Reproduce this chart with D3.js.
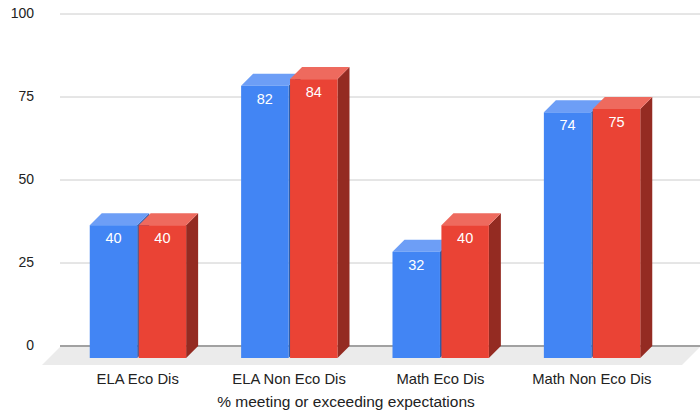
<!DOCTYPE html>
<html><head><meta charset="utf-8">
<script src="https://cdn.jsdelivr.net/npm/d3@7"></script>
<style>html,body{margin:0;padding:0;background:#fff}svg{display:block}text{font-family:"Liberation Sans",Arial,sans-serif}</style>
</head><body><svg id="c" width="700" height="412"></svg>
<script>
const categories = ["ELA Eco Dis","ELA Non Eco Dis","Math Eco Dis","Math Non Eco Dis"];
const seriesA = [40,82,32,74];
const seriesB = [40,84,40,75];
const yTicks = [0,25,50,75,100];
const axisTitle = "% meeting or exceeding expectations";

const svg = d3.select("#c");
const depth = 12, floorDepth = 18;
const left = 60, right = 700;
const y = d3.scaleLinear().domain([0,100]).range([346,14]);
const x0 = d3.scaleBand().domain(categories).range([62.5,668]).paddingInner(0.36).paddingOuter(0.36*0.5);
const x = d3.scaleBand().domain([0,1]).range([0,x0.bandwidth()-0.5]).paddingInner(0.03);

// floor
svg.append("path").attr("fill","#ebebeb")
  .attr("d",`M${left},${y(0)+1}L${right},${y(0)+1}L${right-floorDepth},${y(0)+19}L${left-floorDepth},${y(0)+19}Z`);
// grid
svg.append("g").selectAll("line").data(yTicks).join("line")
  .attr("x1",left).attr("x2",right)
  .attr("y1",d=>y(d)).attr("y2",d=>y(d))
  .attr("stroke",d=>d===0?"#444":"#ccc").attr("stroke-width",d=>d===0?1.2:1);
// y labels
svg.append("g").selectAll("text").data(yTicks).join("text")
  .attr("x",34).attr("y",d=>y(d)-0.7).attr("dy","0.35em").attr("text-anchor","end")
  .attr("font-size",14).attr("fill","#222").text(d=>d);

const styles = [
 {front:"#4285f4",top:"#6d9ef6",side:"#2e5da9"},
 {front:"#ea4335",top:"#ee6a5e",side:"#942b22"}
];
const series = [seriesA,seriesB];
series.forEach((vals,si)=>{
  const g = svg.append("g");
  const s = styles[si];
  const data = vals.map((v,i)=>({v,c:categories[i]}));
  const fx = d=>x0(d.c)+x(si);
  const w = x.bandwidth();
  const base = y(0)+depth;
  const topY = d=>y(d.v)+depth;
  g.selectAll(".side").data(data).join("path").attr("fill",s.side)
    .attr("d",d=>`M${fx(d)+w},${topY(d)}L${fx(d)+w+depth},${topY(d)-depth}L${fx(d)+w+depth},${base-depth}L${fx(d)+w},${base}Z`);
  g.selectAll(".top").data(data).join("path").attr("fill",s.top)
    .attr("d",d=>`M${fx(d)},${topY(d)}L${fx(d)+depth},${topY(d)-depth}L${fx(d)+w+depth},${topY(d)-depth}L${fx(d)+w},${topY(d)}Z`);
  g.selectAll(".front").data(data).join("rect").attr("fill",s.front)
    .attr("x",fx).attr("y",topY).attr("width",w).attr("height",d=>base-topY(d));
  g.selectAll(".lbl").data(data).join("text")
    .attr("x",d=>fx(d)+w/2).attr("y",d=>topY(d)+18)
    .attr("text-anchor","middle").attr("font-size",14.5).attr("fill","#fff").text(d=>d.v);
});
// x labels
svg.append("g").selectAll("text").data(categories).join("text")
  .attr("x",d=>x0(d)+x0.bandwidth()/2-0.5).attr("y",384)
  .attr("text-anchor","middle").attr("font-size",14.8).attr("fill","#222").text(d=>d);
svg.append("text").attr("x",346).attr("y",406.5).attr("text-anchor","middle")
  .attr("font-size",15.5).attr("fill","#222").text(axisTitle);
</script></body></html>
